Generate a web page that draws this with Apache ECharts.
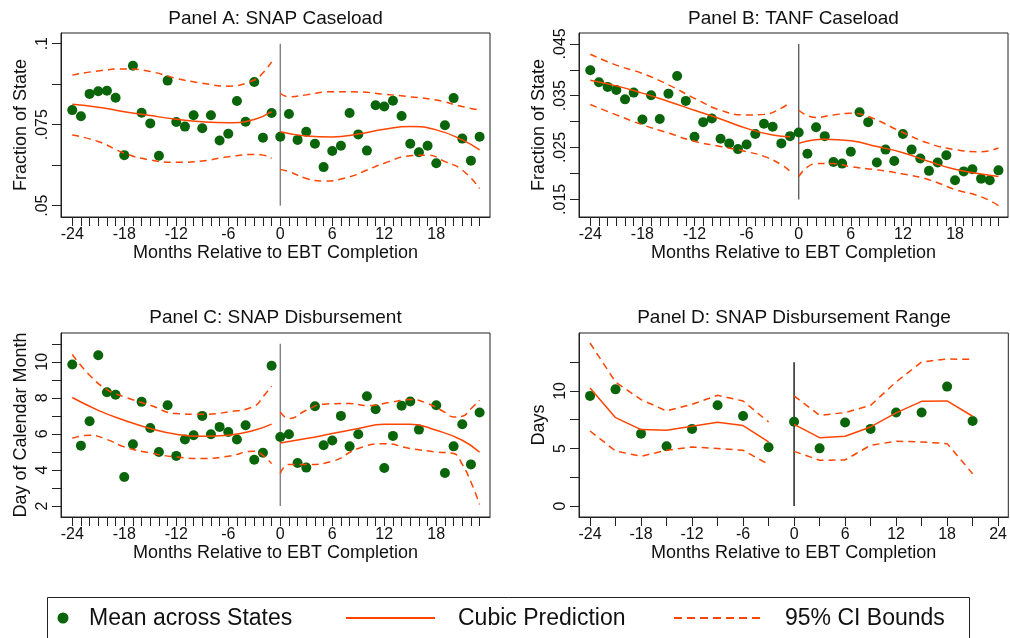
<!DOCTYPE html>
<html><head><meta charset="utf-8">
<script src="https://cdn.jsdelivr.net/npm/echarts@6/dist/echarts.min.js"></script>
<style>html,body{margin:0;padding:0;background:#fff}#c{width:1010px;height:638px}</style>
</head><body><div id="c"></div><script>
// ---------- DATA ----------
const months = [-24,-23,-22,-21,-20,-19,-18,-17,-16,-15,-14,-13,-12,-11,-10,-9,-8,-7,-6,-5,-4,-3,-2,-1,0,1,2,3,4,5,6,7,8,9,10,11,12,13,14,15,16,17,18,19,20,21,22,23];
const monthTicks = months;
const monthLabels = [-24,-18,-12,-6,0,6,12,18];
const dMonthTicks = [-24,-21,-18,-15,-12,-9,-6,-3,0,3,6,9,12,15,18,21,24];
const dMonthLabels = [-24,-18,-12,-6,0,6,12,18,24];

// Panel A: SNAP Caseload
const aMean = [0.0795,0.0776,0.0845,0.0853,0.0855,0.0833,0.0656,0.0932,0.0787,0.0754,0.0654,0.0886,0.0758,0.0744,0.0779,0.0739,0.0779,0.0701,0.0722,0.0823,0.0759,0.0882,0.0710,0.0786,
               0.0713,0.0783,0.0703,0.0728,0.0691,0.0619,0.0669,0.0685,0.0786,0.0720,0.0670,0.0810,0.0806,0.0824,0.0777,0.0691,0.0665,0.0685,0.0631,0.0748,0.0832,0.0707,0.0639,0.0713];
const aFitPreX = [-24,-21,-18,-15,-12,-9,-6,-3,-1];
const aFitPre  = [0.0813,0.0804,0.0790,0.0778,0.0767,0.0759,0.0756,0.0766,0.0790];
const aHiPreX  = [-24,-21,-18,-15,-12,-9,-6,-3,-2,-1];
const aHiPre   = [0.0903,0.0916,0.0922,0.0914,0.0893,0.0878,0.0869,0.0888,0.0910,0.0944];
const aLoPreX  = [-24,-21,-18,-15,-12,-9,-6,-3,-2,-1];
const aLoPre   = [0.0718,0.0698,0.0662,0.0641,0.0634,0.0638,0.0651,0.0658,0.0656,0.0646];
const aFitPostX = [0,3,6,9,12,15,18,21,23];
const aFitPost  = [0.0728,0.0715,0.0712,0.0721,0.0736,0.0744,0.0734,0.0703,0.0672];
const aHiPostX  = [0,1,3,6,9,12,15,18,21,23];
const aHiPost   = [0.0847,0.0836,0.0842,0.0852,0.0851,0.0844,0.0836,0.0826,0.0806,0.0795];
const aLoPostX  = [0,1,3,5,8,10,12,15,17,19,21,23];
const aLoPost   = [0.0612,0.0605,0.0584,0.0576,0.0589,0.0610,0.0631,0.0654,0.0656,0.0636,0.0610,0.0553];
const aVLine = [0.05, 0.1];
const aTicks = [0.05,0.0625,0.075,0.0875,0.1];
const aLabels = [0.05,0.075,0.1];

// Panel B: TANF Caseload
const bMean = [0.0399,0.0376,0.0367,0.0361,0.0343,0.0356,0.0304,0.0351,0.0305,0.0354,0.0388,0.0340,0.0271,0.0299,0.0306,0.0267,0.0258,0.0247,0.0256,0.0276,0.0296,0.0290,0.0258,0.0272,
               0.0279,0.0238,0.0289,0.0272,0.0222,0.0219,0.0242,0.0318,0.0299,0.0221,0.0246,0.0224,0.0276,0.0246,0.0229,0.0205,0.0221,0.0235,0.0187,0.0204,0.0208,0.0190,0.0187,0.0206];
const bFitPreX = [-24,-21,-18,-15,-12,-9,-6,-3,-1];
const bFitPre  = [0.0380,0.0369,0.0355,0.0339,0.0322,0.0305,0.0287,0.0274,0.0271];
const bHiPreX  = [-24,-21,-18,-15,-12,-9,-6,-4,-2,-1];
const bHiPre   = [0.0430,0.0409,0.0393,0.0371,0.0345,0.0322,0.0313,0.0314,0.0326,0.0338];
const bLoPreX  = [-24,-21,-18,-15,-12,-9,-6,-4,-2,-1];
const bLoPre   = [0.0333,0.0313,0.0294,0.0278,0.0262,0.0252,0.0242,0.0233,0.0217,0.0204];
const bFitPostX = [0,3,6,9,12,15,18,21,23];
const bFitPost  = [0.0258,0.0266,0.0263,0.0252,0.0240,0.0223,0.0208,0.0199,0.0194];
const bHiPostX  = [0,2,4,6,8,12,15,18,21,23];
const bHiPost   = [0.0322,0.0308,0.0313,0.0316,0.0310,0.0279,0.0258,0.0246,0.0242,0.0249];
const bLoPostX  = [0,2,4,6,9,12,15,18,21,23];
const bLoPost   = [0.0194,0.0219,0.0219,0.0213,0.0207,0.0199,0.0188,0.0169,0.0155,0.0138];
const bVLine = [0.015, 0.045];
const bTicks = [0.015,0.02,0.025,0.03,0.035,0.04,0.045];
const bLabels = [0.015,0.025,0.035,0.045];

// Panel C: SNAP Disbursement
const cMean = [9.85,5.35,6.70,10.37,8.31,8.17,3.61,5.43,7.78,6.33,5.00,7.59,4.78,5.69,5.93,7.00,5.98,6.39,6.11,5.69,6.48,4.57,4.96,9.78,
               5.83,5.98,4.39,4.13,7.54,5.37,5.63,7.00,5.31,5.98,8.09,7.37,4.11,5.89,7.57,7.80,6.24,null,7.59,3.83,5.31,6.54,4.31,7.19];
const cFitPreX = [-24,-21,-18,-15,-12,-9,-6,-3,-1];
const cFitPre  = [8.02,7.31,6.76,6.30,5.98,5.87,5.93,6.20,6.54];
const cHiPreX  = [-24,-22,-20,-18,-15,-12,-9,-6,-3,-2,-1];
const cHiPre   = [10.41,9.26,8.46,8.06,7.59,7.13,7.09,7.22,7.54,8.06,8.65];
const cLoPreX  = [-24,-22,-20,-18,-15,-12,-9,-6,-3,-2,-1];
const cLoPre   = [5.76,5.93,5.69,5.28,4.94,4.72,4.63,4.76,5.04,4.81,4.35];
const cFitPostX = [0,3,6,9,12,15,18,21,23];
const cFitPost  = [5.50,5.74,6.02,6.30,6.54,6.54,6.20,5.65,4.98];
const cHiPostX  = [0,1,3,5,8,10,13,15,17,19,20,21,22,23];
const cHiPost   = [7.22,6.85,7.31,7.65,7.69,7.57,7.78,7.91,7.69,7.20,6.94,6.98,7.40,7.87];
const cLoPostX  = [0,1,3,6,9,12,15,18,20,21,22,23];
const cLoPost   = [3.80,4.31,4.30,4.48,5.19,5.46,5.19,5.00,4.91,4.31,3.33,2.09];
const cVLine = [2, 11];
const cTicks = [2,3,4,5,6,7,8,9,10,11];
const cLabels = [2,4,6,8,10];

// Panel D: SNAP Disbursement Range
const dX    = [-24,-21,-18,-15,-12,-9,-6,-3,0,3,6,9,12,15,18,21];
const dMean = [9.57,10.14,6.29,5.19,6.70,8.75,7.83,5.10,7.33,5.01,7.25,6.70,8.12,8.12,10.38,7.39];
const dPreX  = [-24,-21,-18,-15,-12,-9,-6,-3];
const dFitPre = [10.26,7.68,6.64,6.58,6.93,7.28,6.99,5.57];
const dHiPre  = [14.17,10.78,9.25,8.26,8.84,9.62,9.13,7.30];
const dLoPre  = [6.52,4.78,4.32,4.84,5.13,4.99,4.84,3.62];
const dPostX  = [0,3,6,9,12,15,18,21];
const dFitPost = [7.10,5.94,6.06,6.87,8.09,9.10,9.13,7.80];
const dHiPost  = [9.57,7.88,8.12,8.75,10.78,12.52,12.78,12.75];
const dLoPost  = [4.75,3.97,4.00,5.28,5.62,5.57,5.42,2.81];
const dVLine = [0, 12.5];
const dTicks = [0,2.5,5,7.5,10,12.5];
const dLabels = [0,5,10];

// ---------- STYLE / BUILD ----------
const FONT = 'Liberation Sans, Arial, Helvetica, sans-serif';
const GREEN = '#0a640a', ORANGE = '#ff4500', INK = '#111';
const pairs = (xs, ys) => xs.map((x, i) => [x, ys[i]]).filter(p => p[1] !== null);
const fmtFrac = v => String(v).replace(/^0\./, '.');

const grids = [
  {left: 61, top: 33, width: 429, height: 184},
  {left: 579, top: 33, width: 429, height: 184},
  {left: 61, top: 333, width: 429, height: 184},
  {left: 579, top: 333, width: 430, height: 184}
].map(g => Object.assign(g, {show: true, borderColor: '#222', borderWidth: 1, backgroundColor: 'transparent'}));

function xAx(gi, min, max, ticks, labels) {
  return {
    type: 'value', gridIndex: gi, min, max,
    axisLine: {show: true, onZero: false, lineStyle: {color: '#222', width: 1}},
    axisTick: {show: true, length: 9, customValues: ticks, lineStyle: {color: '#222', width: 1}},
    axisLabel: {customValues: labels, fontSize: 16, color: INK, margin: 10, fontFamily: FONT},
    splitLine: {show: false},
    name: 'Months Relative to EBT Completion', nameLocation: 'middle', nameGap: 27,
    nameTextStyle: {fontSize: 18, color: INK, fontFamily: FONT}
  };
}
function yAx(gi, min, max, ticks, labels, name, fmt) {
  return {
    type: 'value', gridIndex: gi, min, max,
    axisLine: {show: true, onZero: false, lineStyle: {color: '#222', width: 1}},
    axisTick: {show: true, length: 9, customValues: ticks, lineStyle: {color: '#222', width: 1}},
    axisLabel: {customValues: labels, fontSize: 16, color: INK, margin: 10, rotate: 90, fontFamily: FONT, formatter: fmt},
    splitLine: {show: false},
    name, nameLocation: 'middle', nameGap: 31, nameRotate: 90,
    nameTextStyle: {fontSize: 18, color: INK, fontFamily: FONT}
  };
}

const series = [];
function panel(gi, mx, my, fits, dashed, vline, vcolor, smooth) {
  series.push({type: 'line', xAxisIndex: gi, yAxisIndex: gi, data: [[0, vline[0]], [0, vline[1]]],
    showSymbol: false, lineStyle: {color: vcolor, width: 1.3}, silent: true, z: 1});
  series.push({type: 'scatter', name: 'Mean across States', xAxisIndex: gi, yAxisIndex: gi,
    data: pairs(mx, my), symbol: 'circle', symbolSize: 10, itemStyle: {color: GREEN, opacity: 1}, z: 2});
  fits.forEach(f => series.push({type: 'line', name: 'Cubic Prediction', xAxisIndex: gi, yAxisIndex: gi,
    data: pairs(f[0], f[1]), showSymbol: false, smooth,
    lineStyle: {color: ORANGE, width: 1.5}, z: 3}));
  dashed.forEach(f => series.push({type: 'line', name: '95% CI Bounds', xAxisIndex: gi, yAxisIndex: gi,
    data: pairs(f[0], f[1]), showSymbol: false, smooth,
    lineStyle: {color: ORANGE, width: 1.5, type: [7, 5]}, z: 3}));
}
panel(0, months, aMean, [[aFitPreX, aFitPre], [aFitPostX, aFitPost]],
  [[aHiPreX, aHiPre], [aLoPreX, aLoPre], [aHiPostX, aHiPost], [aLoPostX, aLoPost]], aVLine, '#777', 0.5);
panel(1, months, bMean, [[bFitPreX, bFitPre], [bFitPostX, bFitPost]],
  [[bHiPreX, bHiPre], [bLoPreX, bLoPre], [bHiPostX, bHiPost], [bLoPostX, bLoPost]], bVLine, '#555', 0.5);
panel(2, months, cMean, [[cFitPreX, cFitPre], [cFitPostX, cFitPost]],
  [[cHiPreX, cHiPre], [cLoPreX, cLoPre], [cHiPostX, cHiPost], [cLoPostX, cLoPost]], cVLine, '#777', 0.5);
panel(3, dX, dMean, [[dPreX, dFitPre], [dPostX, dFitPost]],
  [[dPreX, dHiPre], [dPreX, dLoPre], [dPostX, dHiPost], [dPostX, dLoPost]], dVLine, '#000', false);

const titleText = (t, x, y) => ({type: 'text', x, y, silent: true,
  style: {text: t, font: '19px ' + FONT, fill: INK, align: 'center', verticalAlign: 'middle'}});
const legText = (t, x) => ({type: 'text', x, y: 619, silent: true,
  style: {text: t, font: '23px ' + FONT, fill: INK, align: 'left', verticalAlign: 'middle'}});

const option = {
  animation: false,
  backgroundColor: '#fff',
  grid: grids,
  xAxis: [xAx(0, -25.3, 24.2, monthTicks, monthLabels), xAx(1, -25.3, 24.1, monthTicks, monthLabels),
          xAx(2, -25.3, 24.2, monthTicks, monthLabels), xAx(3, -25.3, 25.2, dMonthTicks, dMonthLabels)],
  yAxis: [yAx(0, 0.0465, 0.1033, aTicks, aLabels, 'Fraction of State', fmtFrac),
          yAx(1, 0.0116, 0.0471, bTicks, bLabels, 'Fraction of State', fmtFrac),
          yAx(2, 1.39, 11.6, cTicks, cLabels, 'Day of Calendar Month', v => String(v)),
          yAx(3, -0.96, 15.04, dTicks, dLabels, 'Days', v => String(v))],
  series,
  graphic: [
    titleText('Panel A: SNAP Caseload', 275.5, 19),
    titleText('Panel B: TANF Caseload', 793.5, 19),
    titleText('Panel C: SNAP Disbursement', 275.5, 318),
    titleText('Panel D: SNAP Disbursement Range', 794, 318),
    {type: 'rect', silent: true, shape: {x: 47.5, y: 597.5, width: 922, height: 60},
      style: {fill: '#fff', stroke: '#222', lineWidth: 1}},
    {type: 'circle', silent: true, shape: {cx: 63, cy: 618, r: 5.5}, style: {fill: GREEN}},
    legText('Mean across States', 89),
    {type: 'line', silent: true, shape: {x1: 346, y1: 618, x2: 435, y2: 618}, style: {stroke: ORANGE, lineWidth: 2}},
    legText('Cubic Prediction', 458),
    {type: 'line', silent: true, shape: {x1: 674, y1: 618, x2: 763, y2: 618}, style: {stroke: ORANGE, lineWidth: 2, lineDash: [8, 5]}},
    legText('95% CI Bounds', 785)
  ]
};
echarts.init(document.getElementById('c'), null, {renderer: 'canvas'}).setOption(option);
</script></body></html>
